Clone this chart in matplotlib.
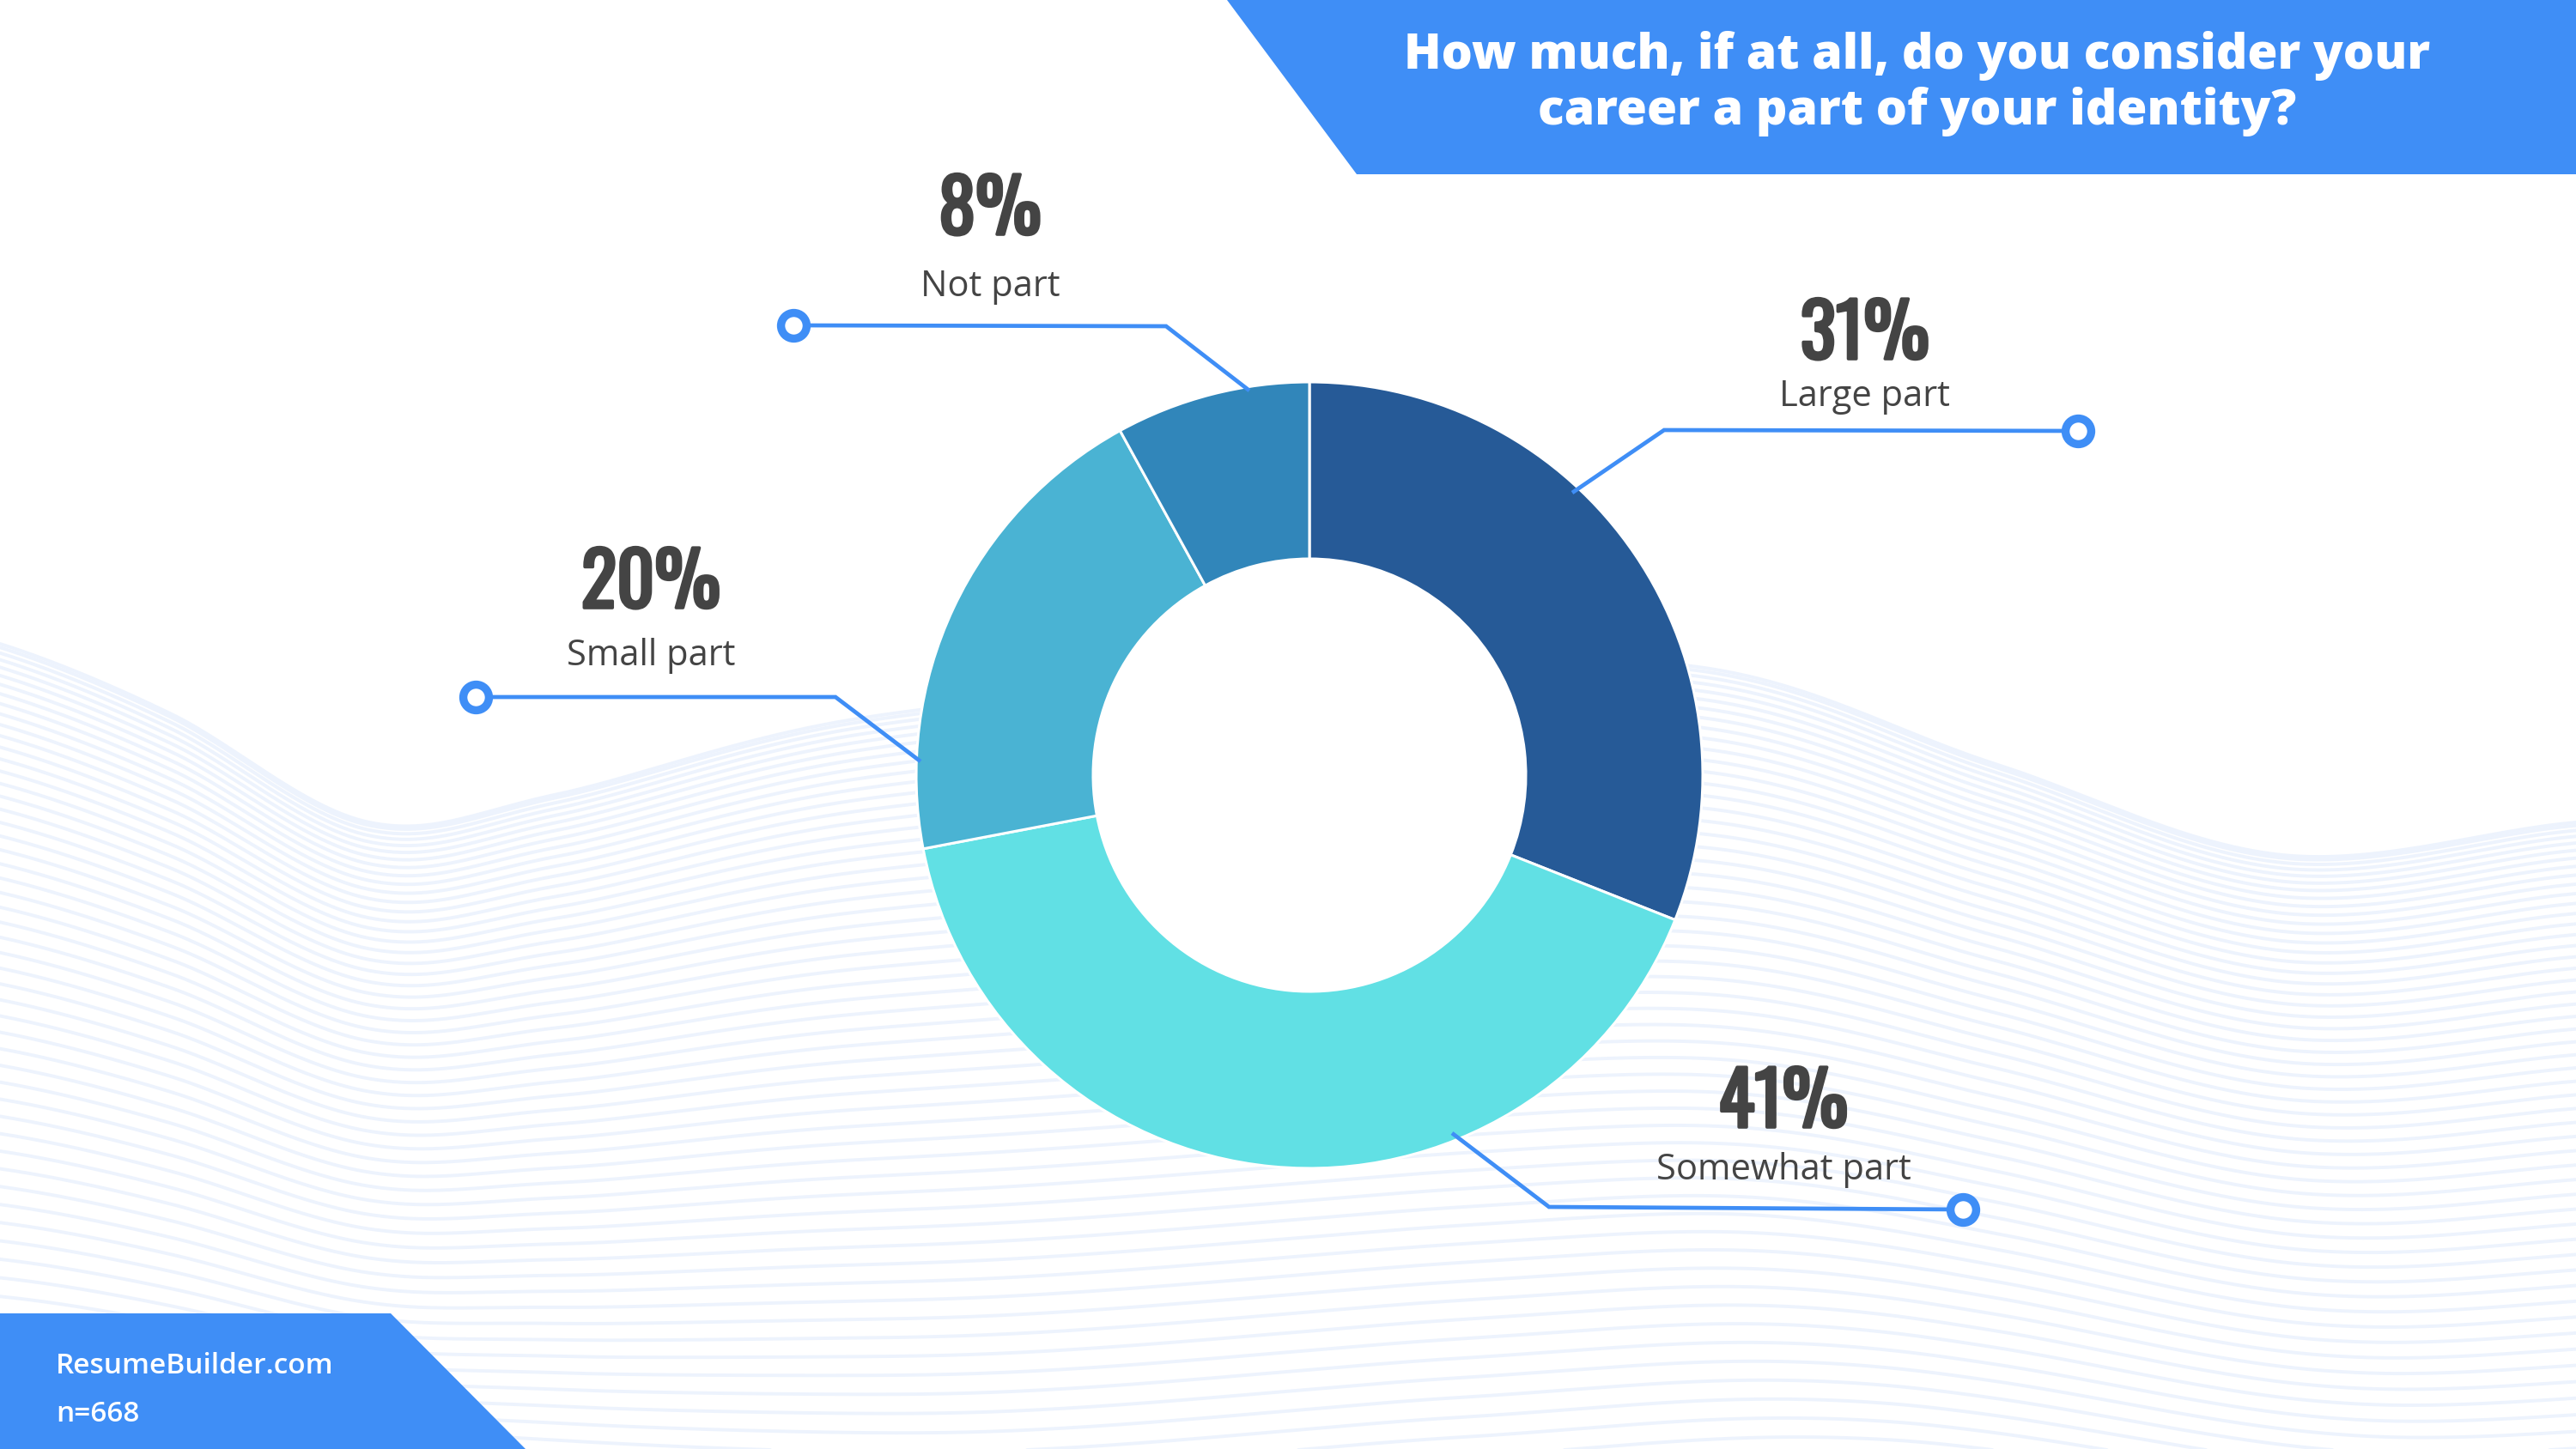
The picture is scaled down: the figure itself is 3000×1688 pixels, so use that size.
import numpy as np
import matplotlib
matplotlib.use("Agg")
import matplotlib.pyplot as plt
from matplotlib import font_manager as fm
from matplotlib import patheffects as pe
from matplotlib.patches import Circle

# ---------------- data ----------------
categories = ["Large part", "Somewhat part", "Small part", "Not part"]
values = [31, 41, 20, 8]
slice_colors = ["#265A97", "#61E0E4", "#4AB3D3", "#3186BA"]
title_lines = ["How much, if at all, do you consider your",
               "career a part of your identity?"]
source_text = "ResumeBuilder.com"
sample_text = "n=668"

# ---------------- layout (pixel space, y measured from top) ----------------
W, H = 3000, 1688
BLUE = "#3F8EF6"
TXT = "#444444"

def Y(y):
    return H - y


def _w(f):
    w = f.weight
    if isinstance(w, str):
        w = fm.weight_dict.get(w, 400)
    return int(w)


def pick_font(families, weight, size, stretch=None):
    for fam in families:
        cands = [f for f in fm.fontManager.ttflist
                 if f.name == fam and f.style == "normal"]
        if stretch is not None:
            c2 = [f for f in cands if str(f.stretch) == stretch]
            if c2:
                cands = c2
            else:
                continue
        if cands:
            best = min(cands, key=lambda f: (abs(_w(f) - weight), -_w(f)))
            return fm.FontProperties(fname=best.fname, size=size)
    return fm.FontProperties(family="DejaVu Sans", weight="bold", size=size)


fp_pct = None
for fam, st in [("Oswald", None), ("Roboto Condensed", None),
                ("Liberation Sans Narrow", None), ("DejaVu Sans", "condensed")]:
    if any(f.name == fam for f in fm.fontManager.ttflist):
        fp_pct = pick_font([fam], 900, 62, stretch=st)
        break
if fp_pct is None:
    fp_pct = fm.FontProperties(family="DejaVu Sans", weight="bold", size=62)

fp_title = pick_font(["Open Sans", "Roboto", "Lato"], 800, 41)
fp_name = pick_font(["Open Sans", "Lato"], 400, 30)
fp_foot = pick_font(["Open Sans", "Roboto"], 600, 24)

fig = plt.figure(figsize=(W / 100, H / 100), dpi=100)
fig.patch.set_facecolor("white")
ax = fig.add_axes([0, 0, 1, 1])

# ---------------- wavy background lines ----------------
def catmull(pts, n=60):
    pts = np.asarray(pts, dtype=float)
    out = []
    for i in range(len(pts) - 3):
        p0, p1, p2, p3 = pts[i:i + 4]
        t = np.linspace(0, 1, n)[:, None]
        seg = 0.5 * ((2 * p1) + (-p0 + p2) * t
                     + (2 * p0 - 5 * p1 + 4 * p2 - p3) * t ** 2
                     + (-p0 + 3 * p1 - 3 * p2 + p3) * t ** 3)
        out.append(seg)
    return np.vstack(out)

top_ctrl = [(-400, 700), (-150, 722), (0, 750), (200, 832), (430, 958),
            (650, 925), (1000, 837), (1500, 790), (1970, 776), (2321, 889),
            (2658, 996), (3000, 958), (3300, 940), (3600, 930)]
bot_ctrl = [(-400, 1700), (0, 1690), (500, 1745), (1100, 1785), (1700, 1745),
            (2200, 1720), (2800, 1790), (3300, 1765), (3600, 1750)]
xs = np.linspace(0, W, 700)
tc = catmull(top_ctrl)
bc = catmull(bot_ctrl)
top_y = np.interp(xs, tc[:, 0], tc[:, 1])
bot_y = np.interp(xs, bc[:, 0], bc[:, 1])
n_lines = 56
for i in range(n_lines):
    s = (i / (n_lines - 1)) ** 1.35
    yy = top_y + (bot_y - top_y) * s
    ax.plot(xs, Y(yy), color="#EDF3FD", lw=2.8, zorder=1, solid_capstyle="round")

# ---------------- donut ----------------
CX, CY, R, RIN = 1525, 903, 458, 252
wedges, _ = ax.pie(values, colors=slice_colors, startangle=90, counterclock=False,
                   radius=R, center=(CX, Y(CY)),
                   wedgeprops=dict(width=R - RIN, edgecolor="white", linewidth=2.2, zorder=3))
ax.add_patch(Circle((CX, Y(CY)), RIN, facecolor="white", edgecolor="none", zorder=2))

# ---------------- leader lines & labels ----------------
leaders = {
    "Large part":    [(1831, 574), (1938, 501), (2420, 502)],
    "Somewhat part": [(1691, 1320), (1804, 1406), (2286, 1409)],
    "Small part":    [(1072, 887), (973, 812), (554, 812)],
    "Not part":      [(1455, 455), (1358, 380), (924, 379)],
}
label_pos = {  # (x center, pct baseline, name baseline)
    "Large part":    (2172, 418, 473),
    "Somewhat part": (2077, 1313, 1374),
    "Small part":    (758, 708, 775),
    "Not part":      (1153, 273, 345),
}
bold_fx = [pe.withStroke(linewidth=2.6, foreground=TXT)]
for cat, val in zip(categories, values):
    pts = np.array(leaders[cat], dtype=float)
    ax.plot(pts[:, 0], Y(pts[:, 1]), color=BLUE, lw=3.4, zorder=4,
            solid_capstyle="butt", solid_joinstyle="miter")
    ax.plot([pts[-1, 0]], [Y(pts[-1, 1])], marker="o", ms=21.5, mfc="white",
            mec=BLUE, mew=6.8, zorder=6, ls="none")
    x0, yb_pct, yb_name = label_pos[cat]
    ax.text(x0, Y(yb_pct), f"{val}%", ha="center", va="baseline",
            fontproperties=fp_pct, color=TXT, zorder=7, path_effects=bold_fx)
    ax.text(x0, Y(yb_name), cat, ha="center", va="baseline",
            fontproperties=fp_name, color=TXT, zorder=7)

# ---------------- banners ----------------
ax.fill([1429, 3000, 3000, 1580], [Y(0), Y(0), Y(203), Y(203)], color=BLUE,
        zorder=8, lw=0)
ax.text(2233, Y(80), title_lines[0], ha="center", va="baseline",
        fontproperties=fp_title, color="white", zorder=9)
ax.text(2233, Y(145), title_lines[1], ha="center", va="baseline",
        fontproperties=fp_title, color="white", zorder=9)

ax.fill([0, 455, 612, 0], [Y(1530), Y(1530), Y(H), Y(H)], color=BLUE, zorder=8, lw=0)
ax.text(65, Y(1600), source_text, ha="left", va="baseline",
        fontproperties=fp_foot, color="white", zorder=9)
ax.text(65, Y(1656), sample_text, ha="left", va="baseline",
        fontproperties=fp_foot, color="white", zorder=9)

ax.set_xlim(0, W)
ax.set_ylim(0, H)
ax.set_aspect("auto")
ax.axis("off")

fig.savefig("out.png", dpi=100, facecolor="white")
